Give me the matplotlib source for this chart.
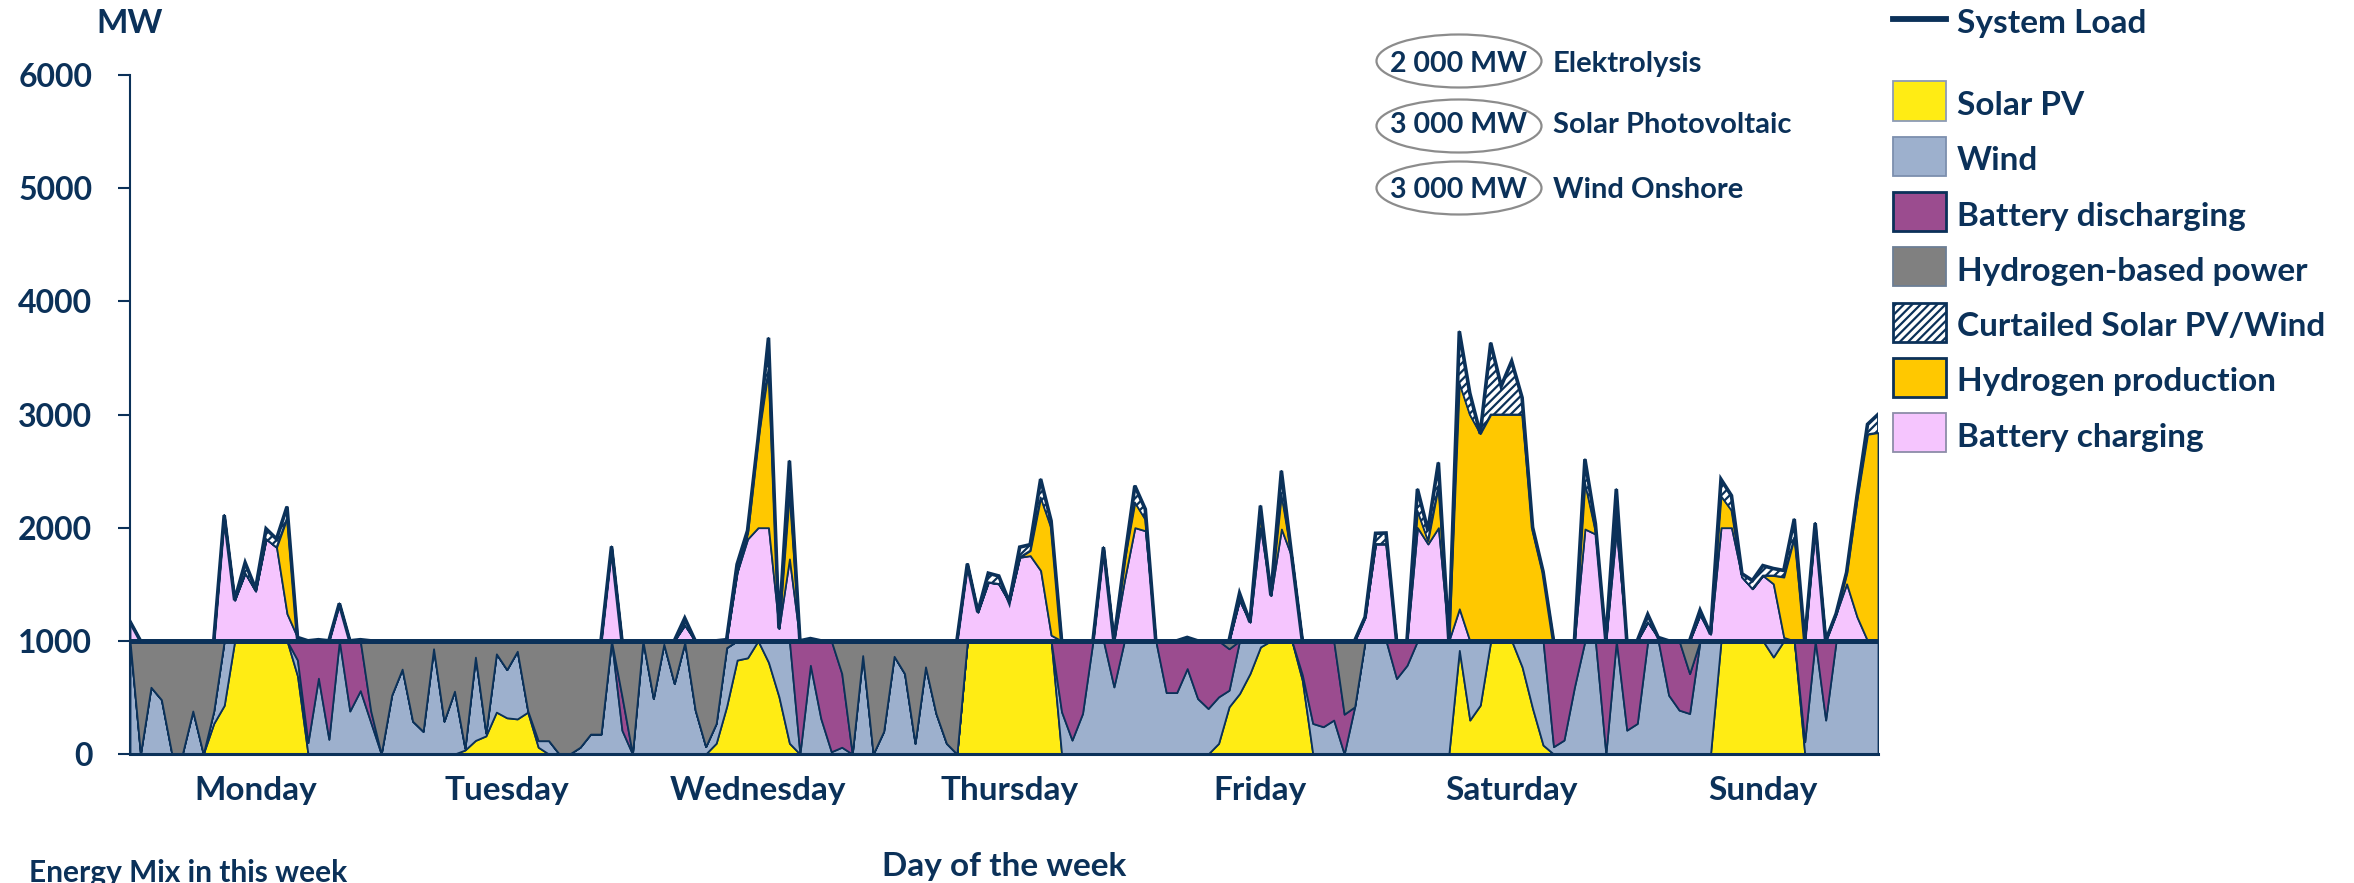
import numpy as np
import matplotlib
matplotlib.use("Agg")
import matplotlib.pyplot as plt
from matplotlib.patches import Rectangle, Ellipse
from matplotlib.lines import Line2D
import matplotlib.transforms as mtransforms

# ---------------- data (MW, hourly, Monday 00h .. Sunday 23h) ----------------
days = ["Monday", "Tuesday", "Wednesday", "Thursday", "Friday", "Saturday", "Sunday"]

solar_pv = (
    [0, 0, 0, 0, 0, 0, 0, 0, 270, 430, 1000, 1000, 1000, 1000, 1000, 1000, 690, 0, 0, 0, 0, 0, 0, 0]
    + [0, 0, 0, 0, 0, 0, 0, 0, 35, 120, 160, 370, 320, 310, 370, 60, 0, 0, 0, 0, 0, 0, 0, 0]
    + [0, 0, 0, 0, 0, 0, 0, 0, 95, 420, 830, 850, 1000, 810, 505, 95, 0, 0, 0, 0, 0, 0, 0, 0]
    + [0, 0, 0, 0, 0, 0, 0, 0, 1000, 1000, 1000, 1000, 1000, 1000, 1000, 1000, 1000, 0, 0, 0, 0, 0, 0, 0]
    + [0, 0, 0, 0, 0, 0, 0, 0, 94, 417, 534, 711, 946, 1000, 1000, 1000, 650, 0, 0, 0, 0, 0, 0, 0]
    + [0, 0, 0, 0, 0, 0, 0, 916, 300, 432, 1000, 1000, 1000, 769, 402, 79, 0, 0, 0, 0, 0, 0, 0, 0]
    + [0, 0, 0, 0, 0, 0, 0, 0, 1000, 1000, 1000, 1000, 1000, 857, 1000, 1000, 0, 0, 0, 0, 0, 0, 0, 0]
)
wind = (
    [1000, 0, 590, 480, 0, 0, 380, 0, 110, 570, 0, 0, 0, 0, 0, 0, 140, 100, 670, 130, 1000, 380, 560, 280]
    + [0, 520, 750, 290, 200, 930, 290, 555, 15, 736, 25, 515, 426, 598, 12, 58, 118, 0, 0, 60, 176, 176, 1000, 210]
    + [0, 1000, 490, 970, 623, 985, 388, 65, 175, 520, 170, 150, 0, 190, 495, 905, 0, 784, 314, 20, 60, 0, 870, 0]
    + [200, 863, 711, 94, 770, 358, 94, 0, 0, 0, 0, 0, 0, 0, 0, 0, 0, 373, 123, 358, 1000, 1000, 593, 1000]
    + [1000, 1000, 1000, 543, 543, 755, 490, 402, 411, 147, 466, 289, 54, 0, 0, 0, 50, 270, 241, 300, 0, 417, 1000, 1000]
    + [1000, 667, 784, 1000, 1000, 1000, 1000, 84, 700, 568, 0, 0, 0, 231, 598, 921, 65, 123, 593, 1000, 1000, 0, 1000, 211]
    + [270, 1000, 1000, 520, 388, 358, 1000, 1000, 0, 0, 0, 0, 0, 143, 0, 0, 108, 1000, 300, 1000, 1000, 1000, 1000, 1000]
)
battery_discharging = (
    [0, 0, 0, 0, 0, 0, 0, 0, 0, 0, 0, 0, 0, 0, 0, 0, 170, 900, 330, 870, 0, 620, 440, 100]
    + [0, 0, 0, 0, 0, 0, 0, 0, 0, 0, 0, 0, 0, 0, 0, 0, 0, 0, 0, 0, 0, 0, 0, 300]
    + [0, 0, 0, 0, 0, 0, 0, 0, 0, 0, 0, 0, 0, 0, 0, 0, 1000, 216, 686, 980, 651, 0, 0, 0]
    + [0, 0, 0, 0, 0, 0, 0, 0, 0, 0, 0, 0, 0, 0, 0, 0, 0, 627, 877, 642, 0, 0, 407, 0]
    + [0, 0, 0, 457, 457, 245, 510, 598, 495, 366, 0, 0, 0, 0, 0, 0, 300, 730, 759, 700, 352, 0, 0, 0]
    + [0, 333, 216, 0, 0, 0, 0, 0, 0, 0, 0, 0, 0, 0, 0, 0, 935, 877, 407, 0, 0, 1000, 0, 789]
    + [730, 0, 0, 480, 612, 352, 0, 0, 0, 0, 0, 0, 0, 0, 0, 0, 892, 0, 700, 0, 0, 0, 0, 0]
)
hydrogen_power = (
    [0, 1000, 410, 520, 1000, 1000, 620, 1000, 620, 0, 0, 0, 0, 0, 0, 0, 0, 0, 0, 0, 0, 0, 0, 620]
    + [1000, 480, 250, 710, 800, 70, 710, 445, 950, 144, 815, 115, 254, 92, 618, 882, 882, 1000, 1000, 940, 824, 824, 0, 490]
    + [1000, 0, 510, 30, 377, 15, 612, 935, 730, 60, 0, 0, 0, 0, 0, 0, 0, 0, 0, 0, 289, 1000, 130, 1000]
    + [800, 137, 289, 906, 230, 642, 906, 1000, 0, 0, 0, 0, 0, 0, 0, 0, 0, 0, 0, 0, 0, 0, 0, 0]
    + [0, 0, 0, 0, 0, 0, 0, 0, 0, 70, 0, 0, 0, 0, 0, 0, 0, 0, 0, 0, 648, 583, 0, 0]
    + [0, 0, 0, 0, 0, 0, 0, 0, 0, 0, 0, 0, 0, 0, 0, 0, 0, 0, 0, 0, 0, 0, 0, 0]
    + [0, 0, 0, 0, 0, 290, 0, 0, 0, 0, 0, 0, 0, 0, 0, 0, 0, 0, 0, 0, 0, 0, 0, 0]
)
battery_charging = (
    [170, 0, 0, 0, 0, 0, 0, 0, 0, 1110, 360, 600, 440, 900, 826, 240, 30, 0, 10, 0, 330, 0, 10, 0]
    + [0, 0, 0, 0, 0, 0, 0, 0, 0, 0, 0, 0, 0, 0, 0, 0, 0, 0, 0, 0, 0, 0, 833, 0]
    + [0, 0, 0, 0, 0, 140, 0, 0, 0, 10, 606, 900, 1000, 1000, 110, 724, 0, 20, 0, 0, 0, 0, 0, 0]
    + [0, 0, 0, 0, 0, 0, 0, 0, 680, 254, 518, 503, 343, 738, 753, 621, 50, 0, 0, 0, 0, 826, 0, 533]
    + [1000, 973, 0, 0, 0, 30, 0, 0, 0, 0, 360, 166, 1000, 401, 988, 740, 0, 0, 0, 0, 0, 0, 210, 856]
    + [856, 0, 0, 1000, 856, 1000, 0, 283, 0, 0, 0, 0, 0, 0, 0, 0, 0, 0, 0, 988, 944, 0, 974, 0]
    + [0, 166, 30, 0, 0, 0, 230, 60, 1000, 1000, 563, 460, 577, 504, 30, 0, 0, 1000, 0, 240, 504, 210, 0, 0]
)
hydrogen_production = (
    [0, 0, 0, 0, 0, 0, 0, 0, 0, 0, 0, 0, 0, 0, 0, 845, 0, 0, 0, 0, 0, 0, 0, 0]
    + [0, 0, 0, 0, 0, 0, 0, 0, 0, 0, 0, 0, 0, 0, 0, 0, 0, 0, 0, 0, 0, 0, 0, 0]
    + [0, 0, 0, 0, 0, 0, 0, 0, 0, 0, 0, 50, 781, 1400, 0, 587, 0, 0, 0, 0, 0, 0, 0, 0]
    + [0, 0, 0, 0, 0, 0, 0, 0, 0, 0, 0, 0, 0, 0, 44, 646, 950, 0, 0, 0, 0, 0, 0, 176]
    + [223, 100, 0, 0, 0, 0, 0, 0, 0, 0, 0, 0, 150, 0, 309, 0, 0, 0, 0, 0, 0, 0, 0, 0]
    + [0, 0, 0, 150, 30, 370, 0, 1997, 2000, 1831, 2000, 2000, 2000, 2000, 973, 592, 0, 0, 0, 411, 30, 0, 117, 0]
    + [0, 0, 0, 0, 0, 0, 0, 0, 280, 153, 0, 0, 0, 73, 533, 914, 0, 40, 0, 0, 100, 1043, 1825, 1840]
)
curtailed = (
    [0, 0, 0, 0, 0, 0, 0, 0, 0, 0, 0, 90, 20, 90, 74, 100, 0, 0, 0, 0, 0, 0, 0, 0]
    + [0, 0, 0, 0, 0, 0, 0, 0, 0, 0, 0, 0, 0, 0, 0, 0, 0, 0, 0, 0, 0, 0, 0, 0]
    + [0, 0, 0, 0, 0, 60, 0, 0, 0, 0, 70, 24, 0, 277, 0, 280, 0, 0, 0, 0, 0, 0, 0, 0]
    + [0, 0, 0, 0, 0, 0, 0, 0, 0, 0, 80, 70, 0, 90, 53, 162, 60, 0, 0, 0, 0, 0, 0, 0]
    + [147, 90, 0, 0, 0, 0, 0, 0, 0, 0, 60, 0, 44, 0, 205, 0, 0, 0, 0, 0, 0, 0, 0, 94]
    + [97, 0, 0, 191, 90, 205, 0, 455, 190, 0, 633, 251, 471, 148, 30, 20, 0, 0, 0, 206, 60, 0, 250, 0]
    + [0, 67, 0, 0, 0, 0, 40, 0, 147, 130, 30, 73, 88, 62, 59, 162, 0, 0, 0, 0, 0, 30, 88, 160]
)
system_load = [1000] * 168

capacities = ["2 000 MW", "3 000 MW", "3 000 MW"]
capacity_names = ["Elektrolysis", "Solar Photovoltaic", "Wind Onshore"]

# ---------------- style ----------------
NAVY = "#0B3159"
C_SOLAR = "#FFEC14"
C_WIND = "#9DB0CD"
C_DIS = "#9B4C8F"
C_H2P = "#808080"
C_H2PROD = "#FFC800"
C_CHG = "#F5C5FE"

plt.rcParams["font.family"] = ["Lato", "DejaVu Sans"]
plt.rcParams["font.weight"] = "bold"
plt.rcParams["hatch.linewidth"] = 1.6
plt.rcParams["hatch.color"] = NAVY

W_PX, H_PX = 2354, 883
def fx(x):
    return x / W_PX
def fy(y):
    return 1 - y / H_PX

fig = plt.figure(figsize=(W_PX / 100, H_PX / 100), dpi=100)
ax = fig.add_axes([fx(130), fy(754), fx(1878) - fx(130), fy(75) - fy(754)])

hours = np.arange(len(system_load))
load = np.array(system_load, dtype=float)
s = np.array(solar_pv, dtype=float)
w = np.array(wind, dtype=float)
d = np.array(battery_discharging, dtype=float)
hp = np.array(hydrogen_power, dtype=float)
c = np.array(battery_charging, dtype=float)
p = np.array(hydrogen_production, dtype=float)
x = np.array(curtailed, dtype=float)

ax.stackplot(hours, s, w, d, hp, colors=[C_SOLAR, C_WIND, C_DIS, C_H2P],
             edgecolor=NAVY, linewidth=1.3)

top1 = load + c
top2 = top1 + p
top3 = top2 + x
ax.fill_between(hours, load, top1, facecolor=C_CHG, edgecolor=NAVY, linewidth=1.3)
ax.fill_between(hours, top1, top2, facecolor=C_H2PROD, edgecolor=NAVY, linewidth=1.3)
ax.fill_between(hours, top2, top3, facecolor="white", hatch="////", edgecolor=NAVY, linewidth=1.3)
ax.plot(hours, top3, color=NAVY, linewidth=2.6, solid_joinstyle="miter")
ax.plot(hours, load, color=NAVY, linewidth=3.6)

ax.set_xlim(0, 167)
ax.set_ylim(0, 6000)
ax.set_yticks(np.arange(0, 6001, 1000))
ax.set_yticklabels([str(v) for v in range(0, 6001, 1000)], fontsize=23,
                   fontweight="bold", color=NAVY)
ax.tick_params(axis="y", length=8.6, width=1.5, color=NAVY, pad=18.5)
ax.set_xticks([])
for side in ("top", "right"):
    ax.spines[side].set_visible(False)
ax.spines["left"].set_color(NAVY)
ax.spines["left"].set_linewidth(1.5)
ax.spines["bottom"].set_color(NAVY)
ax.spines["bottom"].set_linewidth(2.2)
ax.set_facecolor("white")

trans = mtransforms.blended_transform_factory(ax.transData, fig.transFigure)
for i, day in enumerate(days):
    ax.text(12 + 24 * i, fy(800), day, transform=trans, ha="center", va="baseline",
            fontsize=24, fontweight="bold", color=NAVY)

fig.text(fx(130), fy(33), "MW", ha="center", va="baseline", fontsize=24,
         fontweight="bold", color=NAVY)
fig.text(fx(1004), fy(876), "Day of the week", ha="center", va="baseline",
         fontsize=24, fontweight="bold", color=NAVY)
fig.text(fx(29), fy(882), "Energy Mix in this week", ha="left", va="baseline",
         fontsize=21.5, fontweight="bold", color=NAVY)

# capacity annotations
for i, (cap, name) in enumerate(zip(capacities, capacity_names)):
    cy = [61, 126, 188][i]
    base = [72, 133, 198][i]
    e = Ellipse((fx(1459), fy(cy)), width=165 / W_PX, height=53 / H_PX,
                transform=fig.transFigure, fill=False, edgecolor="#8C8C8C", linewidth=1.6)
    fig.add_artist(e)
    fig.text(fx(1459), fy(base), cap, ha="center", va="baseline", fontsize=20.5,
             fontweight="bold", color=NAVY)
    fig.text(fx(1553), fy(base), name, ha="left", va="baseline", fontsize=21,
             fontweight="bold", color=NAVY)

# legend
fig.add_artist(Line2D([fx(1893), fx(1946)], [fy(19), fy(19)], color=NAVY, linewidth=4.2,
                      transform=fig.transFigure))
fig.text(fx(1957), fy(33), "System Load", ha="left", va="baseline", fontsize=24,
         fontweight="bold", color=NAVY)
legend_items = [
    ("Solar PV", C_SOLAR, None, "#8C9BB5", 1.3),
    ("Wind", C_WIND, None, "#7C8FAE", 1.3),
    ("Battery discharging", C_DIS, None, NAVY, 2.0),
    ("Hydrogen-based power", C_H2P, None, "#6C7E95", 1.3),
    ("Curtailed Solar PV/Wind", "white", "////", NAVY, 2.0),
    ("Hydrogen production", C_H2PROD, None, NAVY, 2.0),
    ("Battery charging", C_CHG, None, "#8C8CA8", 1.3),
]
for i, (label, fc, hatch, ec, lw) in enumerate(legend_items):
    cy = 101 + 55.3 * i
    r = Rectangle((fx(1893), fy(cy + 19.5)), 53 / W_PX, 39 / H_PX, transform=fig.transFigure,
                  facecolor=fc, edgecolor=ec, linewidth=lw, hatch=hatch)
    fig.add_artist(r)
    fig.text(fx(1957), fy(cy + 14), label, ha="left", va="baseline", fontsize=24,
             fontweight="bold", color=NAVY)

fig.savefig("out.png", dpi=100, facecolor="white")
